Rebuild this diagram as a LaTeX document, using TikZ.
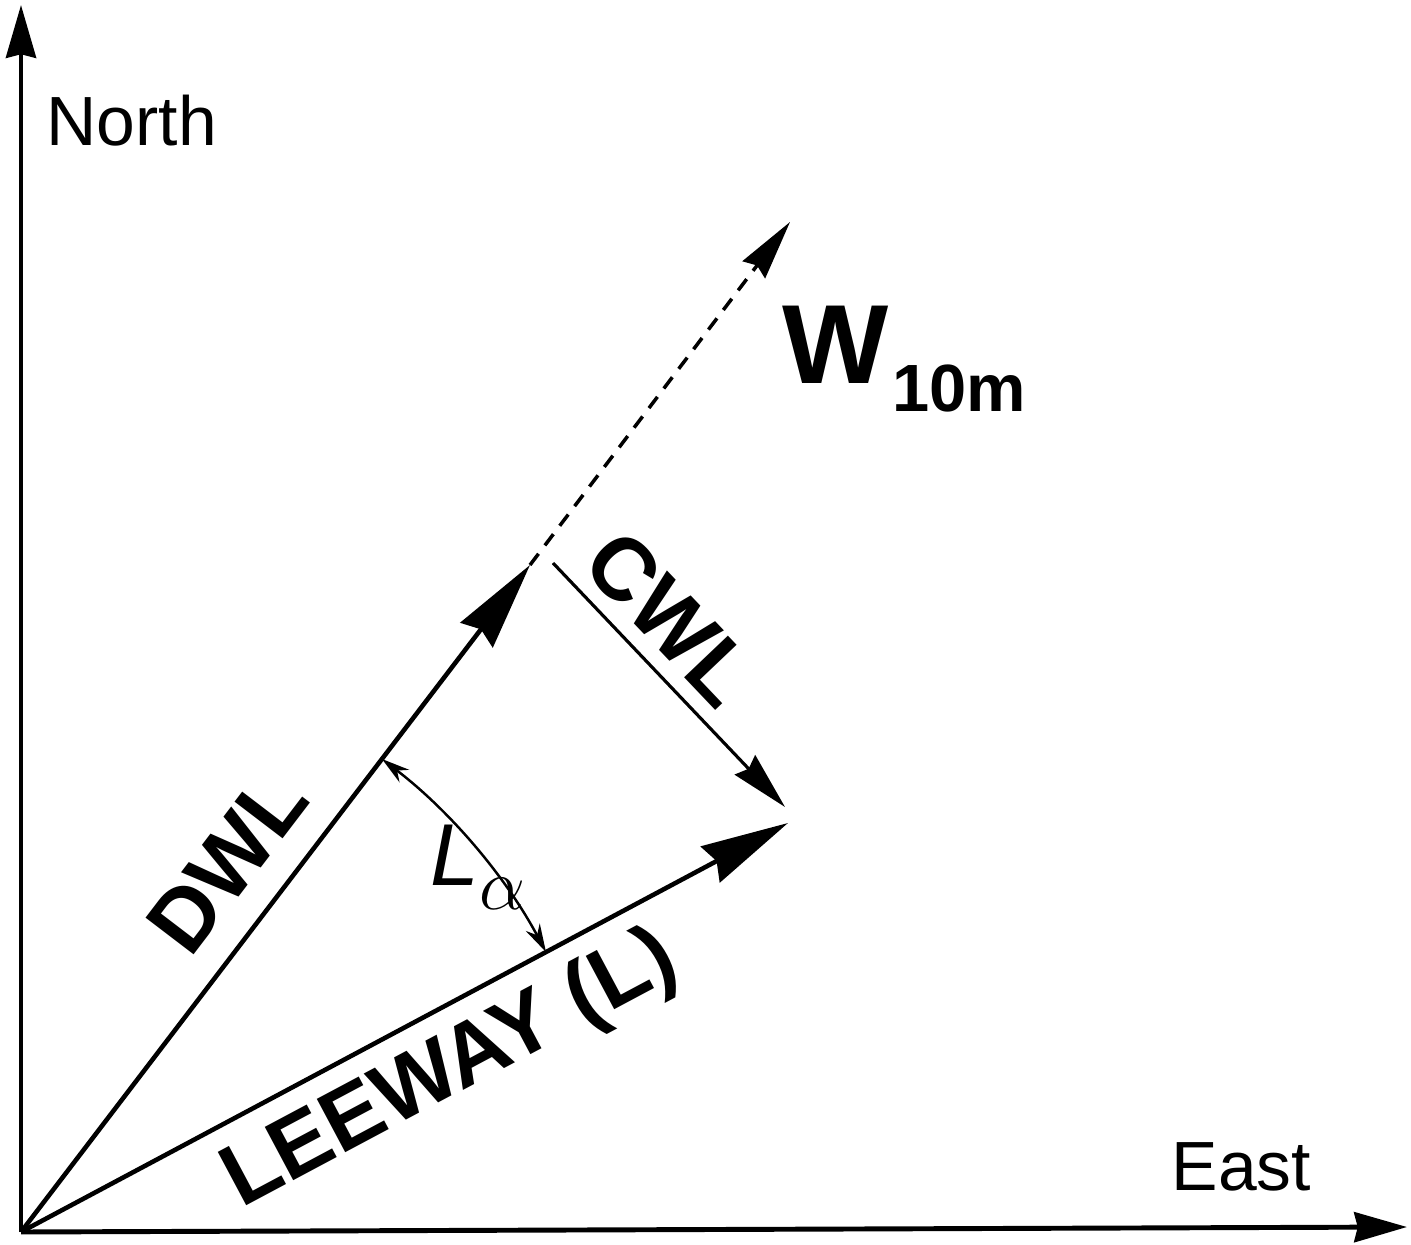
\documentclass[tikz,border=0pt]{standalone}
\usepackage{fontspec}
\setmainfont{Liberation Sans}
\usetikzlibrary{arrows.meta, calc}

\begin{document}
\begin{tikzpicture}[x=0.01cm, y=0.01cm,
  axis/.style={line width=1.4pt, -{Stealth[length=15pt, width=8.5pt, inset=1pt]}},
  vec/.style={line width=1.3pt, -{Stealth[length=25pt, width=11.5pt, inset=2pt]}},
  thinvec/.style={line width=0.9pt, -{Stealth[length=16.5pt, width=8pt, inset=1.5pt]}},
  wind/.style={line width=1pt, dash pattern=on 4pt off 3pt, -{Stealth[length=17pt, width=8pt, inset=1.5pt]}},
  anglearr/.style={line width=0.7pt, {Stealth[length=8pt, width=4.5pt]}-{Stealth[length=8pt, width=4.5pt]}},
  lbl/.style={font=\bfseries\fontsize{25}{30}\selectfont, sloped, inner xsep=0pt},
  axlbl/.style={font=\fontsize{19.8}{24}\selectfont, inner sep=0pt, anchor=base west},
]
\useasboundingbox (0,0) rectangle (1411,1244);

% origin and vector tips
\coordinate (O) at (21,12);
\coordinate (N) at (21,1239);
\coordinate (E) at (1407,17);
\coordinate (dtip) at (530,679);
\coordinate (wtip) at (790,1022);
\coordinate (cstart) at (553,681);
\coordinate (ctip) at (785,437);
\coordinate (ltip) at (788,421);

% axes
\draw[axis] (O) -- (N);
\draw[axis] (O) -- (E);
\node[axlbl] (north) at (46,1099) {North};
\node[axlbl] (east) at (1171,54) {East};

% wind direction
\draw[wind] (dtip) -- (wtip);
\node[anchor=base west, inner sep=0pt] (wlbl) at (782,861)
  {\bfseries\fontsize{32}{36}\selectfont W\hspace{1pt}\raisebox{-8.2pt}{\fontsize{19}{22}\selectfont 10m}};

% leeway components
\draw[vec] (O) -- node[lbl, above, inner ysep=8pt, pos=0.50] (dwl) {DWL} (dtip);
\draw[thinvec] (cstart) -- node[lbl, above, inner ysep=4pt, pos=0.36] (cwl) {CWL} (ctip);
\draw[vec] (O) -- node[lbl, below, inner ysep=4.8pt, pos=0.524] (lw) {LEEWAY (L)} (ltip);

% leeway angle
\path (O) ++(52.65:595) coordinate (a1);
\draw[anglearr] (a1) arc[start angle=52.65, end angle=28.07, radius=595];
\node[anchor=base west, inner sep=0pt] (alpha) at (430,359)
  {\fontsize{25}{30}\selectfont\itshape L\raisebox{-7pt}{\fontsize{20}{24}\selectfont$\alpha$}};
\end{tikzpicture}
\end{document}
